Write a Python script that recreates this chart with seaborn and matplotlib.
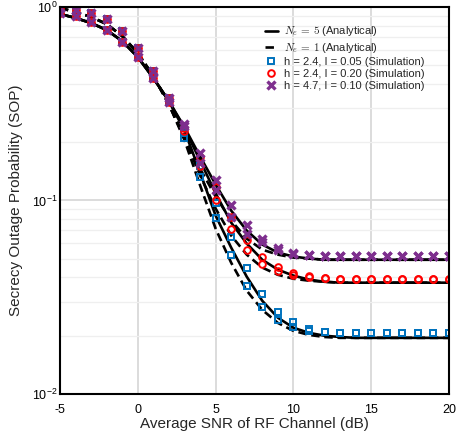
import numpy as np
import pandas as pd
import matplotlib
matplotlib.use("Agg")
import matplotlib.pyplot as plt
from matplotlib.ticker import LogLocator, NullFormatter
import seaborn as sns

sns.set_theme(style="whitegrid")
plt.rcParams['font.family'] = ['Liberation Sans', 'DejaVu Sans']
plt.rcParams['mathtext.fontset'] = 'cm'
plt.rcParams['axes.unicode_minus'] = False

snr_db = list(range(-5, 21))

# analytical curves, x = -5 .. 20 dB
top_ne5 = [0.920, 0.877, 0.826, 0.760, 0.666, 0.551, 0.429, 0.326]
top_ne1 = [0.988, 0.942, 0.888, 0.816, 0.707, 0.578, 0.439, 0.314]

ne5_h47 = top_ne5 + [0.239, 0.169, 0.121, 0.0887, 0.0699, 0.0592, 0.0538, 0.0513, 0.0501] + [0.0494] * 9
ne5_h24_i20 = top_ne5 + [0.236, 0.161, 0.109, 0.0769, 0.0599, 0.0494, 0.0439, 0.0409, 0.0390, 0.0380] + [0.0376] * 8
ne5_h24_i05 = top_ne5 + [0.230, 0.140, 0.0836, 0.0571, 0.0404, 0.0303, 0.0248, 0.0220, 0.0207, 0.0200, 0.0197] + [0.0195] * 7

ne1_h47 = top_ne1 + [0.212, 0.146, 0.105, 0.0788, 0.0635, 0.0557, 0.0525, 0.0507, 0.0501] + [0.0494] * 9
ne1_h24_i20 = top_ne1 + [0.210, 0.135, 0.0909, 0.0659, 0.0525, 0.0450, 0.0413, 0.0394, 0.0385, 0.0380] + [0.0376] * 8
ne1_h24_i05 = top_ne1 + [0.205, 0.120, 0.0716, 0.0477, 0.0342, 0.0272, 0.0233, 0.0212, 0.0202, 0.0197] + [0.0195] * 8

# simulation points
sim_top_ne5 = [0.931, 0.898, 0.836, 0.760, 0.659, 0.551, 0.429, 0.322]
sim_top_ne1 = [0.988, 0.965, 0.931, 0.867, 0.751, 0.613, 0.466, 0.338]

sim_h47_ne5 = sim_top_ne5 + [0.248, 0.175, 0.127, 0.0942, 0.0751, 0.0635, 0.0571, 0.0538, 0.0525] + [0.0519] * 9
sim_h47_ne1 = sim_top_ne1 + [0.242, 0.157, 0.113, 0.0826, 0.0675, 0.0613, 0.0557, 0.0531, 0.0525] + [0.0519] * 9
sim_i20_ne5 = sim_top_ne5 + [0.236, 0.167, 0.117, 0.0826, 0.0628, 0.0513, 0.0455, 0.0423, 0.0409, 0.0399] + [0.0394] * 8
sim_i20_ne1 = sim_top_ne1 + [0.228, 0.150, 0.100, 0.0716, 0.0557, 0.0472, 0.0434, 0.0413, 0.0404, 0.0399] + [0.0394] * 8
sim_i05_ne5 = sim_top_ne5 + [0.222, 0.150, 0.0965, 0.0651, 0.0450, 0.0330, 0.0266, 0.0236, 0.0217, 0.0210] + [0.0207] * 8
sim_i05_ne1 = sim_top_ne1 + [0.210, 0.132, 0.0816, 0.0525, 0.0363, 0.0282, 0.0242, 0.0222, 0.0212, 0.0210] + [0.0207] * 8

legend_labels = [r'$N_e\,=\,5$ (Analytical)', r'$N_e\,=\,1$ (Analytical)',
                 'h = 2.4, I = 0.05 (Simulation)', 'h = 2.4, I = 0.20 (Simulation)',
                 'h = 4.7, I = 0.10 (Simulation)']

blue, red, purple = '#0072BD', '#FF0000', '#7E2F8E'

fig = plt.figure(figsize=(4.59, 4.38), dpi=100)
ax = fig.add_axes([0.1307, 0.1005, 0.8475, 0.8836])

for vals in [ne5_h24_i05, ne5_h24_i20, ne5_h47]:
    sns.lineplot(x=snr_db, y=vals, color='black', lw=1.9, ax=ax)
h_solid = ax.lines[-1]
for vals in [ne1_h24_i05, ne1_h24_i20, ne1_h47]:
    sns.lineplot(x=snr_db, y=vals, color='black', lw=1.9, ax=ax, dashes=False, linestyle=(0, (3.2, 1.8)))
h_dash = ax.lines[-1]

sims = [(sim_i05_ne5, sim_i05_ne1, 's', blue, 4.8, 1.4),
        (sim_i20_ne5, sim_i20_ne1, 'o', red, 4.8, 1.4),
        (sim_h47_ne5, sim_h47_ne1, 'x', purple, 5.5, 2.4)]
sim_handles = []
for a, b, mk, col, ms, mew in sims:
    for vals in (a, b):
        sns.lineplot(x=snr_db, y=vals, ax=ax, linestyle='', marker=mk, markersize=ms,
                     markerfacecolor='none', markeredgecolor=col, markeredgewidth=mew, color=col)
    sim_handles.append(ax.lines[-1])

ax.set_yscale('log')
ax.set_xlim(-5, 20)
ax.set_ylim(1e-2, 1)
ax.set_xticks([-5, 0, 5, 10, 15, 20])
ax.yaxis.set_major_locator(LogLocator(base=10, numticks=5))
ax.yaxis.set_minor_locator(LogLocator(base=10, subs=np.arange(2, 10), numticks=20))
ax.yaxis.set_minor_formatter(NullFormatter())
ax.grid(True, which='major', color='#d9d9d9', lw=1.3)
ax.grid(True, which='minor', axis='y', color='#efefef', lw=0.9)
ax.tick_params(axis='both', which='both', length=0, labelsize=9, colors='black')
ax.tick_params(axis='x', pad=7)
ax.tick_params(axis='y', pad=2)
for s in ax.spines.values():
    s.set_color('black')
    s.set_linewidth(1.5)
ax.set_facecolor('white')

ax.set_xlabel('Average SNR of RF Channel (dB)', fontsize=11, labelpad=1)
ax.set_ylabel('Secrecy Outage Probability (SOP)', fontsize=11, labelpad=6)

ax.legend([h_solid, h_dash] + sim_handles, legend_labels, loc='upper right',
          bbox_to_anchor=(0.958, 0.975), fontsize=8, frameon=False, handlelength=1.1,
          labelspacing=0.2, handletextpad=0.6, borderaxespad=0.3)

fig.savefig('out.png', dpi=100)
